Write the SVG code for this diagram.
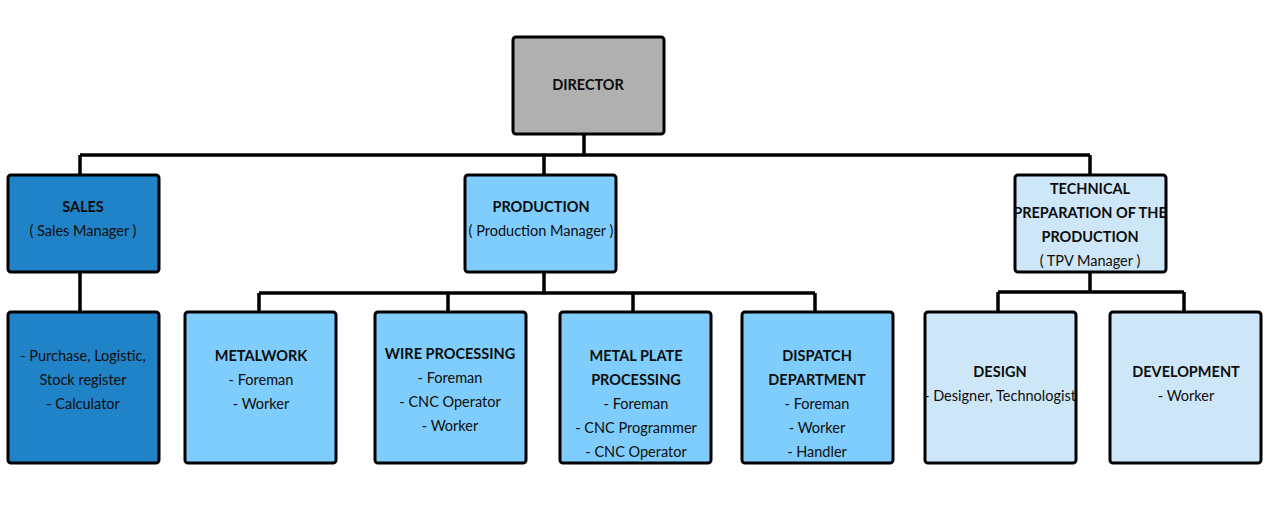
<svg xmlns="http://www.w3.org/2000/svg" width="1266" height="522" viewBox="0 0 1266 522">
<style>
.b{stroke:#000;stroke-width:3;}
.dir{fill:#b0b0b0}
.sales{fill:#2183c7}
.prod{fill:#7fcdfc}
.tpv{fill:#cee7f8}
text{font-family:Lato,"Open Sans",sans-serif;font-size:14.5px;fill:#0d0d0d;text-anchor:middle}
.t{font-weight:bold}
.c{fill:none;stroke:#000;stroke-width:3.5}
</style>
<rect width="1266" height="522" fill="#fff"/>
<g id="connectors">
<path class="c" d="M584 134V155M80 155H1090M80 155V175M544 155V175M1090 155V175"/>
<path class="c" d="M80 272V312"/>
<path class="c" d="M544 272V293M259 293H815M259 293V312M448 293V312M633 293V312M815 293V312"/>
<path class="c" d="M1090 272V292M998 292H1184M998 292V312M1184 292V312"/>
</g>
<g id="director"><rect class="b dir" x="513" y="37" width="151" height="97" rx="3"/><text class="t" x="588" y="90">DIRECTOR</text></g>
<g id="sales"><rect class="b sales" x="8" y="175" width="151" height="97" rx="3"/><text class="t" x="83" y="212">SALES</text><text x="83" y="236">( Sales Manager )</text></g>
<g id="production"><rect class="b prod" x="465" y="175" width="151" height="97" rx="3"/><text class="t" x="541" y="212">PRODUCTION</text><text x="541" y="236">( Production Manager )</text></g>
<g id="tpv"><rect class="b tpv" x="1015" y="175" width="151" height="97" rx="3"/><text class="t" x="1090" y="194">TECHNICAL</text><text class="t" x="1090" y="218">PREPARATION OF THE</text><text class="t" x="1090" y="242">PRODUCTION</text><text x="1090" y="266">( TPV Manager )</text></g>
<g id="sales-staff"><rect class="b sales" x="8" y="312" width="151" height="151" rx="3"/><text x="83" y="361">- Purchase, Logistic,</text><text x="83" y="385">Stock register</text><text x="83" y="409">- Calculator</text></g>
<g id="metalwork"><rect class="b prod" x="185" y="312" width="151" height="151" rx="3"/><text class="t" x="261" y="361">METALWORK</text><text x="261" y="385">- Foreman</text><text x="261" y="409">- Worker</text></g>
<g id="wire"><rect class="b prod" x="375" y="312" width="151" height="151" rx="3"/><text class="t" x="450" y="359">WIRE PROCESSING</text><text x="450" y="383">- Foreman</text><text x="450" y="407">- CNC Operator</text><text x="450" y="431">- Worker</text></g>
<g id="metalplate"><rect class="b prod" x="560" y="312" width="151" height="151" rx="3"/><text class="t" x="636" y="361">METAL PLATE</text><text class="t" x="636" y="385">PROCESSING</text><text x="636" y="409">- Foreman</text><text x="636" y="433">- CNC Programmer</text><text x="636" y="457">- CNC Operator</text></g>
<g id="dispatch"><rect class="b prod" x="742" y="312" width="151" height="151" rx="3"/><text class="t" x="817" y="361">DISPATCH</text><text class="t" x="817" y="385">DEPARTMENT</text><text x="817" y="409">- Foreman</text><text x="817" y="433">- Worker</text><text x="817" y="457">- Handler</text></g>
<g id="design"><rect class="b tpv" x="925" y="312" width="151" height="151" rx="3"/><text class="t" x="1000" y="377">DESIGN</text><text x="1000" y="401">- Designer, Technologist</text></g>
<g id="development"><rect class="b tpv" x="1110" y="312" width="151" height="151" rx="3"/><text class="t" x="1186" y="377">DEVELOPMENT</text><text x="1186" y="401">- Worker</text></g>
</svg>
